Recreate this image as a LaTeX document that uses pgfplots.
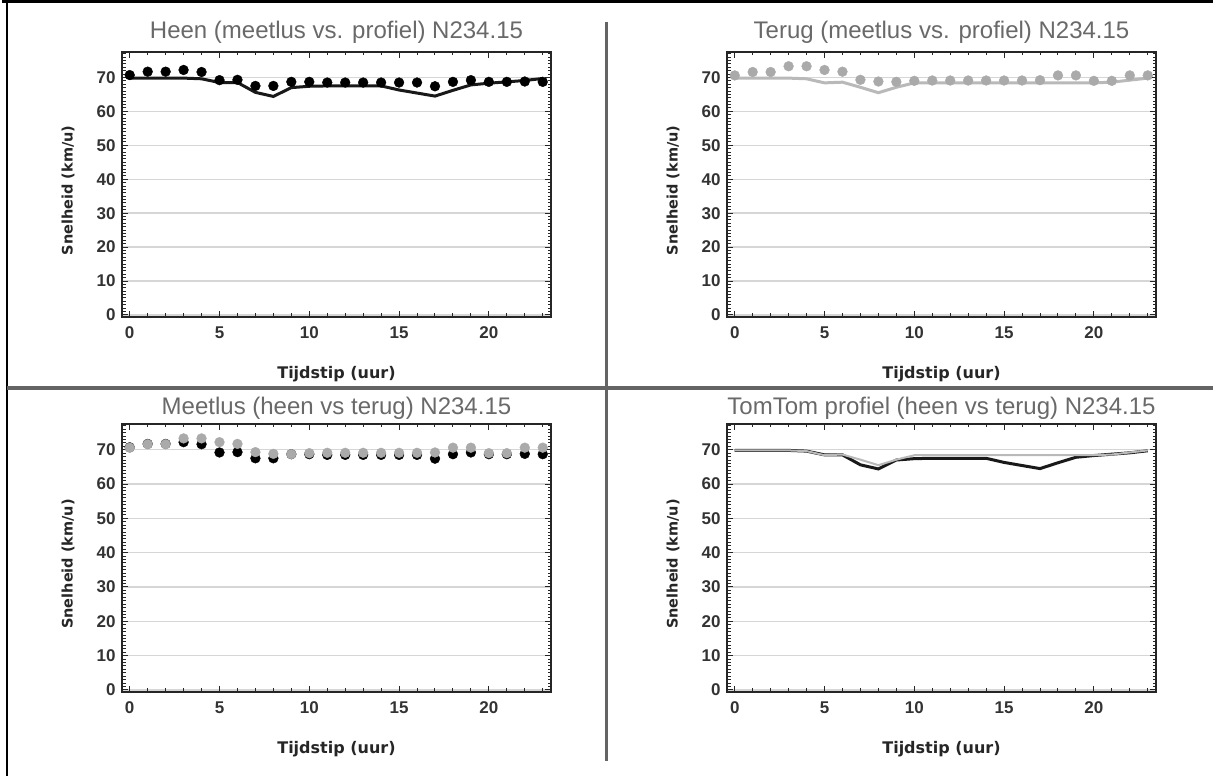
\documentclass[border=0pt]{standalone}
\usepackage{pgfplots}
\pgfplotsset{compat=1.18}
\usepackage{pgfplotstable}
\usepackage{fontspec}
\setmainfont{Liberation Sans}
\newfontfamily\lblfont{DejaVu Sans}
\definecolor{dotgray}{RGB}{170,170,170}
\definecolor{linegray}{RGB}{185,185,185}
\definecolor{titlegray}{RGB}{105,105,105}
\definecolor{divgray}{RGB}{100,100,100}

\pgfplotstableread{
h heenmeet terugmeet heenprof terugprof
0  70.7 70.6 69.8 69.8
1  71.7 71.6 69.8 69.8
2  71.7 71.6 69.8 69.8
3  72.2 73.3 69.8 69.8
4  71.6 73.3 69.6 69.6
5  69.2 72.2 68.5 68.4
6  69.3 71.7 68.5 68.6
7  67.5 69.3 65.6 67.1
8  67.5 68.8 64.4 65.5
9  68.7 68.7 67.0 67.1
10 68.7 69.0 67.4 68.4
11 68.5 69.1 67.5 68.4
12 68.5 69.1 67.5 68.4
13 68.5 69.1 67.5 68.4
14 68.5 69.1 67.5 68.4
15 68.5 69.1 66.3 68.4
16 68.5 69.1 65.4 68.4
17 67.4 69.2 64.5 68.4
18 68.7 70.6 66.2 68.4
19 69.2 70.6 67.8 68.4
20 68.7 69.0 68.3 68.4
21 68.7 69.0 68.7 68.6
22 68.8 70.6 69.1 69.2
23 68.7 70.6 69.7 69.8
}\datatable

\pgfplotsset{
  panel/.style={
    scale only axis,
    width=429pt, height=265pt,
    xmin=-0.43, xmax=23.46, ymin=-0.6, ymax=77.5,
    xtick={0,5,...,20}, minor xtick={0,...,23},
    ytick={0,10,...,70}, minor ytick={0,...,77},
    xtick pos=both, ytick pos=both, ticklabel pos=left,
    tick align=inside,
    major tick length=6pt, minor tick length=3.5pt,
    every tick/.style={black!85, line width=1pt},
    ymajorgrids,
    grid style={black!16, line width=1.4pt},
    axis line style={line width=1.8pt, black!85},
    /pgf/number format/assume math mode=true,
    tick label style={font=\fontsize{17}{17}\selectfont\bfseries, text=black!80},
    xticklabel style={yshift=-6pt},
    yticklabel style={xshift=-3pt},
    xlabel={Tijdstip (uur)},
    ylabel={Snelheid (km/u)},
    xlabel style={font=\lblfont\fontsize{16}{16}\selectfont\bfseries, text=black!85,
      at={(axis description cs:0.5,0)}, anchor=center, yshift=-57pt},
    ylabel style={font=\lblfont\fontsize{14.5}{14.5}\selectfont\bfseries, text=black!85,
      at={(axis description cs:0,0.5)}, anchor=center, yshift=54pt, xshift=-6pt},
    title style={at={(axis description cs:0.5,1)}, anchor=center, yshift=14pt,
      font=\fontsize{24}{24}\selectfont, text=titlegray},
    clip=false,
  },
  blackdots/.style={only marks, mark=*, mark size=4.9pt, black},
  graydots/.style={only marks, mark=*, mark size=4.9pt, dotgray, mark options={fill=dotgray, draw=dotgray}},
  blackline/.style={no marks, black!90, line width=3pt},
  grayline/.style={no marks, linegray, line width=3pt},
}

\begin{document}
\begin{tikzpicture}
\useasboundingbox (0pt,0pt) rectangle (1213pt,776pt);
% frame and dividers
\draw[black, line width=3pt] (2pt,774.5pt) -- (1213pt,774.5pt);
\draw[black, line width=2.5pt] (7pt,776pt) -- (7pt,0pt);
\draw[divgray, line width=3.5pt] (7pt,388pt) -- (1213pt,388pt);
\draw[divgray, line width=3pt] (606pt,754pt) -- (606pt,15pt);

% Panel 1
\begin{axis}[panel, at={(122pt,459pt)}, anchor=south west,
  title={Heen (meetlus vs. profiel) N234.15}]
\addplot[blackline] table[x=h, y=heenprof] {\datatable};
\addplot[blackdots] table[x=h, y=heenmeet] {\datatable};
\end{axis}

% Panel 2
\begin{axis}[panel, at={(727pt,459pt)}, anchor=south west,
  title={Terug (meetlus vs. profiel) N234.15}]
\addplot[grayline] table[x=h, y=terugprof] {\datatable};
\addplot[graydots] table[x=h, y=terugmeet] {\datatable};
\end{axis}

% Panel 3
\begin{axis}[panel, height=268pt, at={(122pt,84pt)}, anchor=south west,
  title style={yshift=-4pt},
  title={Meetlus (heen vs terug) N234.15}]
\addplot[blackdots] table[x=h, y=heenmeet] {\datatable};
\addplot[graydots] table[x=h, y=terugmeet] {\datatable};
\end{axis}

% Panel 4
\begin{axis}[panel, height=268pt, at={(727pt,84pt)}, anchor=south west,
  title style={yshift=-4pt},
  title={TomTom profiel (heen vs terug) N234.15}]
\addplot[blackline] table[x=h, y=heenprof] {\datatable};
\addplot[grayline, line width=2pt] table[x=h, y=terugprof] {\datatable};
\end{axis}
\end{tikzpicture}
\end{document}
